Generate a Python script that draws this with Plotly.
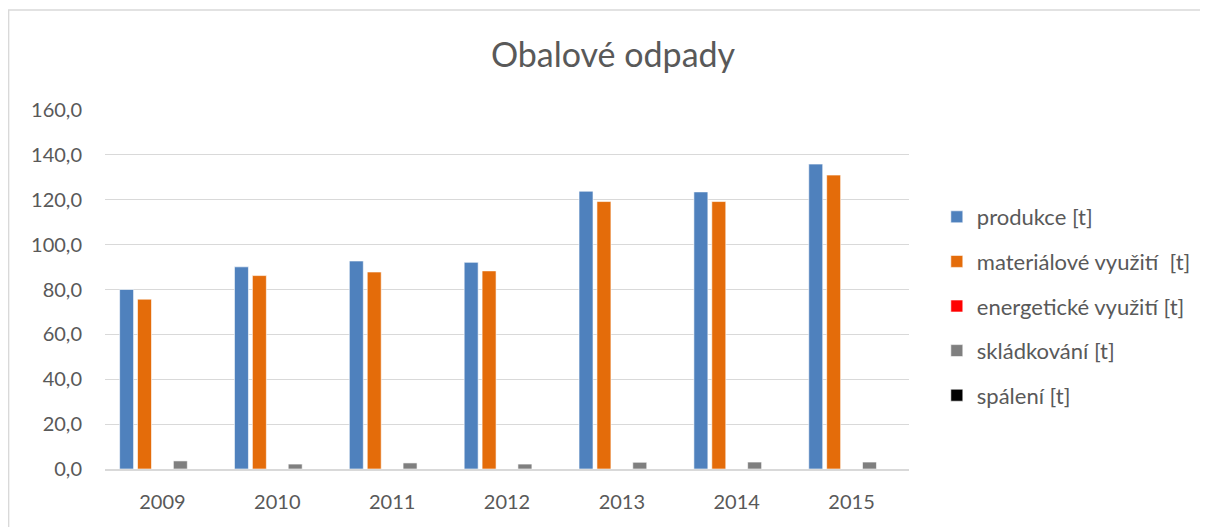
import plotly.graph_objects as go

years = ["2009", "2010", "2011", "2012", "2013", "2014", "2015"]
produkce = [80.0, 90.1, 92.7, 92.1, 123.8, 123.5, 135.9]
materialove = [75.7, 86.2, 87.8, 88.3, 119.2, 119.2, 131.0]
energeticke = [0, 0, 0, 0, 0, 0, 0]
skladkovani = [3.6, 2.2, 2.7, 2.2, 3.0, 3.1, 3.1]
spaleni = [0, 0, 0, 0, 0, 0, 0]

series = [
    ("produkce [t]", produkce, "#4F81BD"),
    ("materiálové využití  [t]", materialove, "#E46C0A"),
    ("energetické využití [t]", energeticke, "#FF0000"),
    ("skládkování [t]", skladkovani, "#7F7F7F"),
    ("spálení [t]", spaleni, "#000000"),
]

FONT = "Lato"
fig = go.Figure()
for i, (name, vals, col) in enumerate(series):
    fig.add_trace(go.Bar(
        x=years, y=vals, name=name, legendgroup=str(i),
        marker=dict(color=col, line=dict(color="white", width=0.6)),
    ))

# page body offsets the figure by 8px
OFF = 8
W, H = 1208 - OFF, 527 - OFF
L, R, T, B = 105 - OFF, 1208 - 914, 110 - OFF, 527 - 469
pw, ph = W - L - R, H - T - B

def px_x(x):
    return (x - OFF - L) / pw

def px_y(y):
    return (H - B - (y - OFF)) / ph

fig.update_layout(
    width=W, height=H,
    margin=dict(l=L, r=R, t=T, b=B),
    paper_bgcolor="white", plot_bgcolor="white",
    separators=", ",
    barmode="group", bargap=0.22, bargroupgap=0.22,
    font=dict(family=FONT, color="#595959", size=20),
    title=dict(text="Obalové odpady", x=(613 - OFF) / W, xref="container", xanchor="center",
               y=1 - (55 - OFF) / H, yref="container", yanchor="middle",
               font=dict(size=34, color="#595959", family=FONT)),
    legend=dict(x=px_x(942), xanchor="left", y=px_y(196), yanchor="top",
                traceorder="grouped", tracegroupgap=13, itemwidth=30,
                font=dict(size=22, color="#595959", family=FONT),
                bgcolor="rgba(0,0,0,0)"),
    showlegend=True,
    xaxis=dict(showgrid=False, showline=True, linecolor="#D9D9D9", linewidth=1.5,
               ticks="", ticklabelstandoff=14, tickfont=dict(size=20, color="#595959")),
    yaxis=dict(range=[0, 160], dtick=20, tickformat=".1f", showgrid=True,
               gridcolor="#D9D9D9", gridwidth=1.3, zeroline=False, showline=False,
               ticks="", ticklabelstandoff=22, tickfont=dict(size=20, color="#595959")),
    shapes=[dict(type="rect", xref="paper", yref="paper",
                 x0=px_x(8), x1=px_x(1230),
                 y0=px_y(545), y1=px_y(10),
                 line=dict(color="#D9D9D9", width=1.5), fillcolor="rgba(0,0,0,0)", layer="below")],
)

fig.write_html("out.html")
